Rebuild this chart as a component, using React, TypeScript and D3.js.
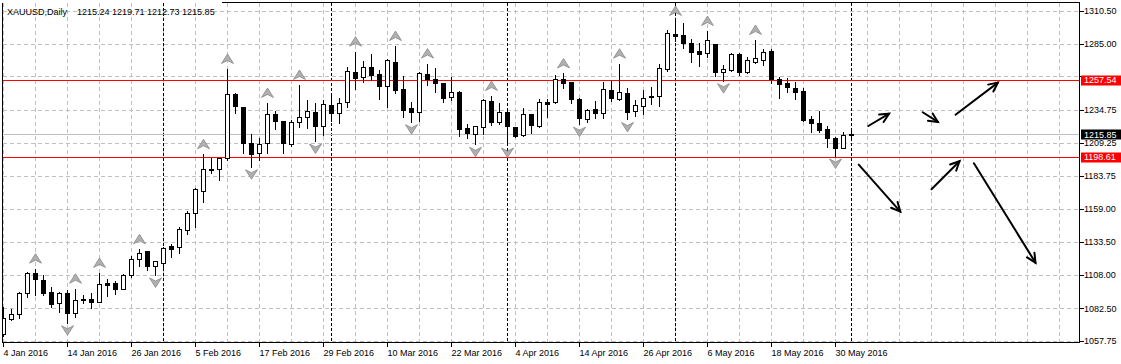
import React from 'react';
import * as d3 from 'd3';

const W = 1121;
const H = 364;

// XAUUSD daily bars, 4 Jan 2016 .. 1 Jun 2016
const opens = [
  1062.7, 1074.4, 1078.0, 1094.1, 1109.4, 1104.2, 1094.8, 1086.9, 1094.5, 1078.7,
  1089.2, 1089.7, 1087.6, 1101.9, 1102.2, 1097.6, 1108.1, 1120.1, 1126.4, 1114.7,
  1117.5, 1130.1, 1129.3, 1142.3, 1155.3, 1172.6, 1188.5, 1189.0, 1197.5, 1246.5,
  1236.5, 1208.9, 1201.3, 1208.9, 1231.2, 1226.0, 1208.4, 1225.0, 1228.9, 1232.8,
  1222.4, 1238.0, 1231.9, 1240.3, 1263.3, 1259.5, 1267.1, 1261.8, 1253.1, 1271.0,
  1250.3, 1236.0, 1232.7, 1261.8, 1258.0, 1255.1, 1244.2, 1248.2, 1220.4, 1215.8,
  1221.4, 1241.3, 1225.0, 1232.7, 1221.2, 1215.5, 1231.2, 1222.4, 1240.6, 1240.3,
  1258.0, 1256.1, 1243.0, 1227.4, 1235.2, 1232.5, 1249.8, 1243.1, 1247.2, 1233.7,
  1237.7, 1244.2, 1245.4, 1265.8, 1292.7, 1291.9, 1286.0, 1279.6, 1277.9, 1285.0,
  1263.8, 1265.1, 1277.3, 1263.2, 1271.4, 1272.7, 1279.6, 1258.0, 1255.4, 1251.5,
  1249.2, 1227.7, 1224.3, 1219.9, 1213.2, 1205.6, 1215.24,
];
const highs = [
  1084.3, 1082.6, 1095.8, 1111.1, 1113.7, 1108.6, 1099.6, 1095.8, 1097.1, 1098.3,
  1093.5, 1094.8, 1110.4, 1106.0, 1104.2, 1109.4, 1123.4, 1128.5, 1127.0, 1118.8,
  1130.3, 1132.4, 1145.6, 1157.9, 1175.7, 1201.3, 1198.2, 1198.7, 1266.6, 1248.0,
  1237.2, 1217.1, 1213.4, 1240.6, 1234.4, 1226.8, 1227.6, 1254.4, 1242.9, 1240.6,
  1242.9, 1248.5, 1244.4, 1268.1, 1279.9, 1273.1, 1278.1, 1265.5, 1273.9, 1284.2,
  1261.3, 1241.3, 1264.3, 1270.8, 1267.0, 1255.9, 1260.5, 1249.8, 1224.5, 1223.3,
  1243.3, 1245.9, 1240.6, 1235.7, 1222.2, 1236.5, 1232.1, 1243.3, 1243.4, 1262.0,
  1263.2, 1256.7, 1244.6, 1236.0, 1242.3, 1256.7, 1257.8, 1270.7, 1252.4, 1242.9,
  1250.3, 1252.8, 1270.1, 1296.3, 1303.4, 1302.1, 1289.8, 1286.8, 1295.7, 1285.5,
  1269.7, 1278.6, 1279.1, 1276.0, 1288.8, 1281.9, 1281.7, 1260.5, 1259.9, 1256.4,
  1251.7, 1230.6, 1234.4, 1223.0, 1214.5, 1218.4, 1219.71,
];
const lows = [
  1061.4, 1073.4, 1075.4, 1091.5, 1092.8, 1092.8, 1083.8, 1080.0, 1071.5, 1076.1,
  1086.9, 1082.6, 1087.2, 1092.2, 1093.5, 1097.0, 1106.8, 1115.0, 1111.9, 1108.1,
  1114.4, 1122.1, 1124.7, 1139.5, 1145.1, 1164.2, 1186.0, 1180.8, 1196.2, 1232.5,
  1201.7, 1191.0, 1195.9, 1201.5, 1220.1, 1201.7, 1207.1, 1221.7, 1221.0, 1210.7,
  1215.3, 1226.0, 1224.7, 1237.1, 1250.3, 1256.0, 1257.4, 1242.5, 1237.0, 1247.5,
  1229.3, 1225.5, 1226.0, 1253.8, 1248.2, 1240.4, 1242.3, 1214.7, 1212.8, 1208.2,
  1216.1, 1223.0, 1223.6, 1207.6, 1214.1, 1214.7, 1217.1, 1221.7, 1229.1, 1240.0,
  1251.1, 1239.6, 1223.6, 1224.9, 1228.5, 1228.3, 1241.7, 1242.1, 1227.2, 1229.9,
  1231.0, 1239.0, 1237.5, 1264.3, 1287.5, 1282.2, 1271.4, 1268.4, 1274.8, 1260.5,
  1256.9, 1264.5, 1261.3, 1262.6, 1270.2, 1268.9, 1254.9, 1243.9, 1248.2, 1242.7,
  1226.3, 1217.8, 1217.8, 1205.9, 1199.2, 1205.1, 1212.73,
];
const closes = [
  1074.9, 1078.0, 1094.1, 1109.4, 1104.8, 1094.5, 1086.1, 1094.1, 1078.7, 1088.7,
  1089.6, 1087.6, 1100.9, 1100.4, 1097.6, 1107.8, 1120.1, 1125.2, 1115.2, 1118.6,
  1128.5, 1128.2, 1143.1, 1155.3, 1173.7, 1189.0, 1189.0, 1197.5, 1246.5, 1237.5,
  1209.4, 1200.5, 1208.2, 1231.2, 1226.3, 1208.9, 1225.6, 1228.9, 1233.5, 1222.4,
  1238.8, 1231.8, 1239.6, 1264.1, 1259.3, 1267.1, 1261.6, 1253.1, 1272.5, 1250.1,
  1234.8, 1232.7, 1262.6, 1258.0, 1254.9, 1243.3, 1248.0, 1219.7, 1217.2, 1222.0,
  1242.1, 1224.9, 1232.7, 1222.0, 1214.8, 1231.2, 1222.6, 1240.3, 1239.3, 1258.2,
  1255.5, 1242.5, 1228.1, 1234.3, 1232.5, 1250.3, 1243.9, 1248.0, 1232.7, 1238.3,
  1243.4, 1245.4, 1266.4, 1293.4, 1291.4, 1286.1, 1279.1, 1277.3, 1288.1, 1263.8,
  1265.8, 1277.1, 1263.3, 1272.7, 1274.0, 1278.6, 1258.0, 1254.4, 1252.3, 1248.5,
  1226.8, 1224.3, 1219.1, 1212.8, 1205.1, 1215.3, 1215.85,
];

const dateLabels = [
  '4 Jan 2016', '14 Jan 2016', '26 Jan 2016', '5 Feb 2016', '17 Feb 2016',
  '29 Feb 2016', '10 Mar 2016', '22 Mar 2016', '4 Apr 2016', '14 Apr 2016',
  '26 Apr 2016', '6 May 2016', '18 May 2016', '30 May 2016',
];
const priceTicks = [1310.5, 1285.0, 1260.25, 1234.75, 1209.25, 1183.75, 1159.0, 1133.5, 1108.0, 1082.5, 1057.75];

// bar indexes of the Fractals indicator marks
const upFractals = [4, 9, 12, 17, 25, 28, 33, 37, 44, 49, 53, 61, 70, 77, 84, 88, 94];
const downFractals = [8, 19, 31, 39, 51, 59, 63, 72, 78, 90, 104];

// month separators (first bar of each month)
const monthStarts = [20, 41, 63, 84, 106];

const levels = [1257.54, 1198.61];
const bidPrice = 1215.85;

// hand drawn forecast arrows: [fromBar, fromPrice, toBar, toPrice]
const forecastArrows = [
  [108.1, 1222.2, 110.7, 1231.6],
  [114.9, 1232.7, 116.8, 1225.3],
  [119.0, 1230.8, 124.3, 1255.4],
  [106.9, 1192.6, 112.1, 1156.6],
  [116.0, 1173.7, 119.5, 1195.2],
  [121.3, 1193.6, 129.0, 1117.5],
];

const left = 2.5, top = 2.5, right = 1079.5, bottom = 342.5;
const font = "'Liberation Sans', Arial, sans-serif";

const x = d3.scaleLinear().domain([0, 134]).range([3.5, 3.5 + 8 * 134]);
const y = d3.scaleLinear().domain([1057.75, 1310.5]).range([340.7, 10.7]);
const py = (v: number) => Math.round(y(v)) + 0.5;

function App() {
  const bars = d3.range(opens.length);
  const vGrid = d3.range(0, 133, 4);
  // tick labels that sit fully under a level label box are hidden, as in the terminal
  const shownTicks = priceTicks.filter((t) => levels.every((l) => Math.abs(y(t) - y(l)) > 5));

  const arrowHead = (x1: number, y1: number, x2: number, y2: number) => {
    const a = Math.atan2(y2 - y1, x2 - x1);
    const L = 10, s = 0.45;
    const p1 = [x2 - L * Math.cos(a - s), y2 - L * Math.sin(a - s)];
    const p2 = [x2 - L * Math.cos(a + s), y2 - L * Math.sin(a + s)];
    return `M${p1[0]},${p1[1]}L${x2},${y2}L${p2[0]},${p2[1]}`;
  };

  return (
    <svg width={W} height={H} style={{ position: 'absolute', left: 0, top: 0, background: '#fff' }}
      fontFamily={font} fontSize={9}>
      <defs>
        <clipPath id="plot">
          <rect x={left + 0.5} y={top + 0.5} width={right - left - 1} height={bottom - top - 1} />
        </clipPath>
      </defs>

      {/* grid */}
      <g stroke="#c0c0c0" strokeDasharray="4,3" shapeRendering="crispEdges">
        {priceTicks.map((t) => (
          <line key={'h' + t} x1={left} x2={right} y1={py(t)} y2={py(t)} />
        ))}
        {vGrid.map((i) => (
          <line key={'v' + i} x1={x(i)} x2={x(i)} y1={top} y2={bottom} />
        ))}
      </g>

      {/* month separators */}
      <g stroke="#000" strokeDasharray="3,2" shapeRendering="crispEdges">
        {monthStarts.map((i) => (
          <line key={'m' + i} x1={x(i)} x2={x(i)} y1={top} y2={bottom} />
        ))}
      </g>

      {/* levels and bid */}
      <g shapeRendering="crispEdges">
        <line x1={left} x2={right} y1={py(bidPrice)} y2={py(bidPrice)} stroke="#c0c0c0" />
        {levels.map((l) => (
          <line key={l} x1={left} x2={right} y1={py(l)} y2={py(l)} stroke="#ff0000" />
        ))}
      </g>

      {/* candles */}
      <g clipPath="url(#plot)" shapeRendering="crispEdges">
        {bars.map((i) => {
          const cx = x(i);
          const o = opens[i], c = closes[i];
          const yTop = py(Math.max(o, c));
          const yBot = py(Math.min(o, c));
          const bull = c >= o;
          return (
            <g key={i}>
              <line x1={cx} x2={cx} y1={py(highs[i])} y2={py(lows[i])} stroke="#000" />
              {yBot - yTop < 1 ? (
                <line x1={cx - 2.5} x2={cx + 2.5} y1={yTop} y2={yTop} stroke="#000" />
              ) : (
                <rect x={cx - 2} y={yTop} width={4} height={yBot - yTop}
                  fill={bull ? '#fff' : '#000'} stroke="#000" />
              )}
            </g>
          );
        })}
      </g>

      {/* fractals */}
      <g fill="#b0b0b0" stroke="#888" strokeWidth={0.8}>
        {upFractals.map((i) => {
          const cx = x(i), hy = y(highs[i]);
          return <path key={'u' + i}
            d={`M${cx},${hy - 14}L${cx + 6},${hy - 4.5}L${cx},${hy - 7.5}L${cx - 6},${hy - 4.5}Z`} />;
        })}
        {downFractals.map((i) => {
          const cx = x(i), ly = y(lows[i]);
          return <path key={'d' + i}
            d={`M${cx},${ly + 12.5}L${cx + 6},${ly + 3}L${cx},${ly + 6}L${cx - 6},${ly + 3}Z`} />;
        })}
      </g>

      {/* forecast arrows */}
      <g stroke="#000" strokeWidth={2} fill="none" strokeLinecap="round">
        {forecastArrows.map((a, k) => {
          const x1 = x(a[0]), y1 = y(a[1]), x2 = x(a[2]), y2 = y(a[3]);
          return (
            <g key={'a' + k}>
              <line x1={x1} y1={y1} x2={x2} y2={y2} />
              <path d={arrowHead(x1, y1, x2, y2)} />
            </g>
          );
        })}
      </g>

      {/* frame */}
      <g stroke="#000" fill="none" shapeRendering="crispEdges">
        <line x1={left} x2={left} y1={top} y2={bottom} />
        <line x1={222} x2={right} y1={top} y2={top} />
        <line x1={right} x2={right} y1={top} y2={bottom} />
        <line x1={left} x2={right} y1={bottom} y2={bottom} />
      </g>

      {/* price axis */}
      <g>
        {priceTicks.map((t) => (
          <line key={'tk' + t} x1={right} x2={right + 4} y1={py(t)} y2={py(t)} stroke="#000" shapeRendering="crispEdges" />
        ))}
        {shownTicks.map((t) => (
          <text key={'pt' + t} x={1084} y={y(t) + 3.3} fill="#000">{t.toFixed(2)}</text>
        ))}
        {levels.map((l) => (
          <g key={'lb' + l}>
            <rect x={1081} y={py(l) - 5} width={40} height={10} fill="#ff0000" />
            <text x={1084} y={y(l) + 3.3} fill="#fff">{l.toFixed(2)}</text>
          </g>
        ))}
        <rect x={1081} y={py(bidPrice) - 5} width={40} height={10} fill="#000" />
        <text x={1084} y={y(bidPrice) + 3.3} fill="#fff">{bidPrice.toFixed(2)}</text>
      </g>

      {/* time axis */}
      <g>
        {dateLabels.map((d, k) => {
          const tx = x(k * 8);
          return (
            <g key={d}>
              <line x1={tx} x2={tx} y1={bottom} y2={bottom + 4} stroke="#000" shapeRendering="crispEdges" />
              <text x={tx} y={356} fill="#000">{d}</text>
            </g>
          );
        })}
      </g>

      {/* title */}
      <text x={7} y={15} fill="#000">XAUUSD,Daily</text>
      <text x={77} y={15} fill="#000">
        {[opens[106], highs[106], lows[106], closes[106]].map((v) => v.toFixed(2)).join(' ')}
      </text>
    </svg>
  );
}

export default App;
